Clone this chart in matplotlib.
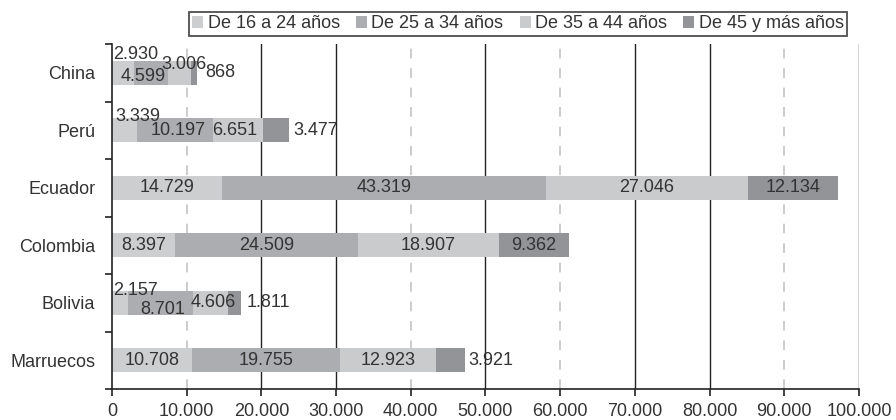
import matplotlib
matplotlib.use("Agg")
import matplotlib.pyplot as plt
from matplotlib.patches import Patch
import numpy as np

plt.rcParams["font.family"] = ["Liberation Sans", "DejaVu Sans"]

# datos (de abajo hacia arriba)
paises = ["Marruecos", "Bolivia", "Colombia", "Ecuador", "Perú", "China"]
grupos = ["De 16 a 24 años", "De 25 a 34 años", "De 35 a 44 años", "De 45 y más años"]
de_16_24 = [10708, 2157, 8397, 14729, 3339, 2930]
de_25_34 = [19755, 8701, 24509, 43319, 10197, 4599]
de_35_44 = [12923, 4606, 18907, 27046, 6651, 3006]
de_45_mas = [3921, 1811, 9362, 12134, 3477, 868]

colores = ["#cdced0", "#acadb0", "#cacbcd", "#939497"]
TXT = "#333333"
FS = 13

# desplazamientos de etiquetas (px) para segmentos estrechos: (pais, grupo) -> (dx, dy)
ajustes = {
    ("China", 0): (13, 18), ("China", 1): (-8, -4), ("China", 2): (5, 8),
    ("Perú", 0): (13, 14), ("Perú", 1): (3, 0), ("Perú", 2): (-3, 0),
    ("Bolivia", 0): (15, 12), ("Bolivia", 1): (2, -7), ("Bolivia", 2): (3, 0),
}
# etiquetas a la derecha de la barra (separación en px)
a_la_derecha = {("China", 3): 8, ("Perú", 3): 5, ("Bolivia", 3): 6, ("Marruecos", 3): 3}


def fmt(v):
    return f"{v:,}".replace(",", ".")


fig = plt.figure(figsize=(8.96, 4.2), dpi=100)
ax = fig.add_axes([0.125, 0.0738, 0.8337, 0.8214])

series = np.array([de_16_24, de_25_34, de_35_44, de_45_mas])
y = np.arange(len(paises))
izq = np.zeros(len(paises))

# lineas de referencia verticales
for xv in range(10000, 100001, 10000):
    if xv in (10000, 40000, 60000, 90000):
        ax.axvline(xv, color="#cccccc", lw=1.4, ls=(0, (5, 5)), zorder=0)
    else:
        ax.axvline(xv, color="#222222", lw=1.0, zorder=0)

for g, vals in enumerate(series):
    ax.barh(y, vals, left=izq, height=0.42, color=colores[g], zorder=2, label=grupos[g])
    for i, v in enumerate(vals):
        p = paises[i]
        if (p, g) in a_la_derecha:
            ax.annotate(fmt(v), (izq[i] + v, y[i]), xytext=(a_la_derecha[(p, g)] * 0.72, 0),
                        textcoords="offset points", ha="left", va="center",
                        fontsize=FS, color=TXT, zorder=3)
        else:
            dx, dy = ajustes.get((p, g), (0, 0))
            ax.annotate(fmt(v), (izq[i] + v / 2, y[i]), xytext=(dx * 0.72, dy * 0.72),
                        textcoords="offset points", ha="center", va="center",
                        fontsize=FS, color=TXT, zorder=3)
    izq = izq + vals

ax.set_xlim(0, 100000)
ax.set_ylim(-0.5, len(paises) - 0.5)
ax.set_xticks(range(0, 100001, 10000))
ax.set_xticklabels([fmt(v) for v in range(0, 100001, 10000)])
ax.set_yticks(y)
ax.set_yticklabels(paises)
ax.set_yticks(np.arange(-0.5, len(paises)), minor=True)
ax.tick_params(axis="y", which="major", length=0, pad=12, labelsize=FS, labelcolor=TXT)
ax.tick_params(axis="y", which="minor", length=5, width=1.2, color="#222222")
ax.tick_params(axis="x", length=5, width=1.2, color="#222222", pad=5, labelsize=FS, labelcolor=TXT)

for s in ("top", "right"):
    ax.spines[s].set_visible(False)
for s in ("left", "bottom"):
    ax.spines[s].set_color("#222222")
    ax.spines[s].set_linewidth(1.2)

handles = [Patch(facecolor=c, edgecolor="none") for c in colores]
leg = ax.legend(handles, grupos, loc="center", bbox_to_anchor=(0.5435, 1.059), ncol=4,
                frameon=True, fancybox=False, fontsize=FS, handlelength=0.6,
                handleheight=0.6, handletextpad=0.25, columnspacing=0.9,
                borderpad=0.2, labelcolor=TXT)
leg.get_frame().set_edgecolor("#222222")
leg.get_frame().set_linewidth(1.3)

fig.savefig("out.png", dpi=100)
